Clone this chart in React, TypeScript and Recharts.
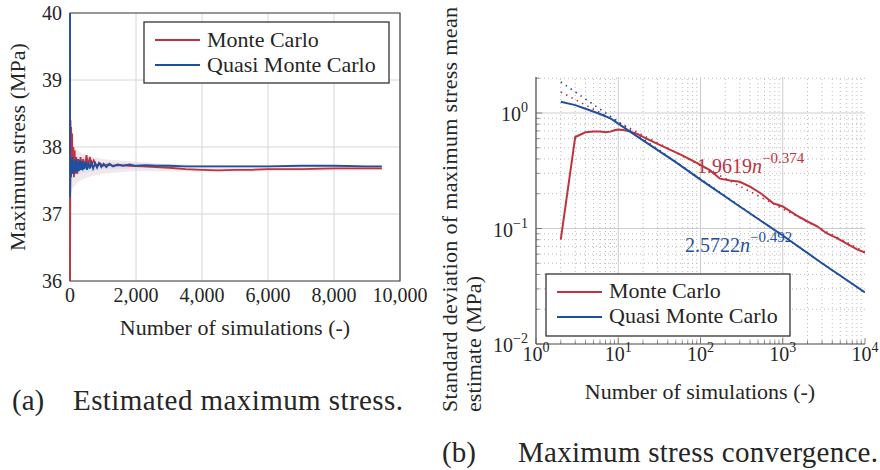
import React from 'react';
import {
  ComposedChart,
  Line,
  Area,
  XAxis,
  YAxis,
  CartesianGrid,
  ReferenceLine,
  ReferenceArea,
} from 'recharts';

const RED = '#c0323f';
const BLUE = '#1f4f9e';
const INK = '#262626';
const FRAME = '#454545';
const FONT = 'Liberation Serif';
const serif = { fontFamily: FONT };

// (a) running estimate of the maximum stress (MPa) vs number of simulations
const mcRunN = [1, 8, 15, 25, 35, 50, 65, 80, 100, 120, 140, 165, 190, 220, 250, 280, 320, 360, 400, 450, 500, 550, 600, 650, 720, 800, 900, 1000, 1150, 1300, 1500, 1800, 2200, 2600, 3000, 3500, 4000, 4500, 5000, 5500, 6000, 7000, 8000, 9000, 9450];
const mcRunMean = [36.0, 37.4, 38.4, 37.9, 38.3, 37.7, 38.2, 37.6, 38.0, 37.55, 37.95, 37.6, 37.85, 37.6, 37.82, 37.65, 37.85, 37.7, 37.82, 37.7, 37.88, 37.72, 37.85, 37.73, 37.8, 37.72, 37.76, 37.72, 37.74, 37.72, 37.73, 37.72, 37.71, 37.7, 37.69, 37.67, 37.66, 37.65, 37.66, 37.66, 37.67, 37.67, 37.68, 37.68, 37.68];

const qmcRunN = [1, 3, 10, 20, 30, 45, 60, 75, 90, 110, 130, 150, 170, 190, 215, 240, 265, 290, 320, 350, 380, 410, 440, 480, 520, 560, 600, 650, 700, 760, 820, 880, 950, 1020, 1100, 1200, 1300, 1450, 1600, 1800, 2000, 2300, 2600, 3000, 3500, 4000, 5000, 6000, 7000, 8000, 9000, 9450];
const qmcRunMean = [40.0, 37.25, 37.6, 37.82, 37.55, 37.8, 37.6, 37.85, 37.62, 37.78, 37.6, 37.8, 37.64, 37.82, 37.62, 37.78, 37.64, 37.8, 37.66, 37.79, 37.65, 37.78, 37.67, 37.78, 37.66, 37.77, 37.68, 37.77, 37.68, 37.76, 37.69, 37.76, 37.7, 37.75, 37.7, 37.75, 37.71, 37.74, 37.72, 37.74, 37.72, 37.73, 37.72, 37.72, 37.71, 37.71, 37.71, 37.71, 37.72, 37.72, 37.71, 37.71];

// faint confidence bands behind the running means
const bandN = [5, 100, 300, 600, 1000, 2000, 4000, 9450];
const mcBandLow = [37.3, 37.4, 37.5, 37.56, 37.6, 37.64, 37.63, 37.65];
const mcBandHigh = [38.2, 38.0, 37.92, 37.86, 37.82, 37.78, 37.7, 37.71];
const qmcBandLow = [37.45, 37.55, 37.6, 37.63, 37.66, 37.68, 37.69, 37.7];
const qmcBandHigh = [37.95, 37.88, 37.82, 37.8, 37.77, 37.76, 37.73, 37.72];

const stressTicks = [36, 37, 38, 39, 40];
const simTicks = [0, 2000, 4000, 6000, 8000, 10000];

// (b) standard deviation of the mean estimate (MPa)
const mcSdN = [2, 3, 4, 5, 6, 7, 8, 9, 10, 12, 14, 17, 22, 30, 43, 60, 90, 130, 172, 230, 300, 400, 550, 760, 1000, 1470, 2000, 2600, 3400, 4500, 6000, 8000, 10000];
const mcSd = [0.08, 0.62, 0.68, 0.69, 0.69, 0.68, 0.69, 0.71, 0.72, 0.71, 0.69, 0.66, 0.6, 0.54, 0.48, 0.43, 0.37, 0.32, 0.27, 0.26, 0.254, 0.23, 0.2, 0.166, 0.155, 0.13, 0.115, 0.105, 0.091, 0.083, 0.074, 0.066, 0.062];
const qmcSdN = [2, 3, 4, 6, 8, 10, 20, 50, 100, 300, 1000, 3000, 10000];
const qmcSd = [1.25, 1.17, 1.09, 0.98, 0.9, 0.81, 0.58, 0.376, 0.265, 0.155, 0.087, 0.05, 0.028];

// power-law fits, end points
const fitN = [2, 10000];
const mcFit = [1.52, 0.0626];
const qmcFit = [1.86, 0.0277];

const decadesX = [1, 10, 100, 1000, 10000];
const decadesY = [0.01, 0.1, 1];

const toPoints = (xs: number[], ys: number[]) => xs.map((n, i) => ({ n, v: ys[i] }));
const toBand = (xs: number[], lo: number[], hi: number[]) =>
  xs.map((n, i) => ({ n, range: [lo[i], hi[i]] }));

const mcRun = toPoints(mcRunN, mcRunMean);
const qmcRun = toPoints(qmcRunN, qmcRunMean);
const mcBand = toBand(bandN, mcBandLow, mcBandHigh);
const qmcBand = toBand(bandN, qmcBandLow, qmcBandHigh);

const mcConv = toPoints(mcSdN, mcSd);
const qmcConv = toPoints(qmcSdN, qmcSd);
const mcFitLine = toPoints(fitN, mcFit);
const qmcFitLine = toPoints(fitN, qmcFit);

// minor log grid: 2..9 inside every decade
const minorsOf = (decades: number[], max: number) =>
  decades.flatMap((d) => [2, 3, 4, 5, 6, 7, 8, 9].map((k) => +(k * d).toPrecision(3))).filter((v) => v <= max);
const minorX = minorsOf(decadesX.slice(0, -1), 10000);
const minorY = minorsOf(decadesY, 2.05);
const allTicksX = [...decadesX, ...minorX].sort((a, b) => a - b);
const allTicksY = [...decadesY, ...minorY].sort((a, b) => a - b);

const TICK_GAP = 10;
const isDecade = (v: number) => Math.abs(Math.log10(v) - Math.round(Math.log10(v))) < 1e-6;
const expText = (v: number) => {
  const e = Math.round(Math.log10(v));
  return e < 0 ? `\u2212${-e}` : `${e}`;
};

const PlainTickX = ({ x, y, payload }: any) => (
  <text x={x} y={y + 15} textAnchor="middle" fontSize={20} fill={INK} style={serif}>
    {payload.value.toLocaleString('en-US')}
  </text>
);

const PlainTickY = ({ x, y, payload }: any) => (
  <text x={x} y={y + 7} textAnchor="end" fontSize={20} fill={INK} style={serif}>
    {payload.value}
  </text>
);

const BottomLogTick = ({ x, y, payload }: any) => {
  const v = payload.value;
  const major = isDecade(v);
  const axisY = y - TICK_GAP;
  return (
    <g>
      <line x1={x} x2={x} y1={axisY} y2={axisY - (major ? 6 : 3.5)} stroke="#666" strokeWidth={0.8} />
      {major && (
        <text x={x} y={axisY + 17} textAnchor="middle" fontSize={20} fill={INK} style={serif}>
          10<tspan dy={-9} fontSize={14}>{expText(v)}</tspan>
        </text>
      )}
    </g>
  );
};

const TopLogTick = ({ x, y, payload }: any) => {
  const major = isDecade(payload.value);
  return <line x1={x} x2={x} y1={y} y2={y + (major ? 6 : 3.5)} stroke="#666" strokeWidth={0.8} />;
};

const LeftLogTick = ({ x, y, payload }: any) => {
  const v = payload.value;
  const major = isDecade(v);
  const axisX = x + TICK_GAP;
  return (
    <g>
      <line x1={axisX} x2={axisX + (major ? 6 : 3.5)} y1={y} y2={y} stroke="#666" strokeWidth={0.8} />
      {major && (
        <text x={axisX - 8} y={y + 8} textAnchor="end" fontSize={20} fill={INK} style={serif}>
          10<tspan dy={-9} fontSize={14}>{expText(v)}</tspan>
        </text>
      )}
    </g>
  );
};

const RightLogTick = ({ x, y, payload }: any) => {
  const major = isDecade(payload.value);
  return <line x1={x} x2={x - (major ? 6 : 3.5)} y1={y} y2={y} stroke="#666" strokeWidth={0.8} />;
};

function StressChart() {
  return (
    <ComposedChart width={440} height={340} margin={{ top: 13, right: 40, bottom: 29, left: 20 }}>
      <CartesianGrid stroke="#d6d6d6" strokeWidth={1} />
      <XAxis
        dataKey="n"
        type="number"
        domain={[0, 10000]}
        ticks={simTicks}
        interval={0}
        height={30}
        tickSize={0}
        tickMargin={6}
        tickLine={false}
        axisLine={false}
        tick={<PlainTickX />}
      />
      <YAxis
        type="number"
        domain={[36, 40]}
        ticks={stressTicks}
        interval={0}
        width={50}
        tickSize={0}
        tickMargin={8}
        tickLine={false}
        axisLine={false}
        tick={<PlainTickY />}
        allowDataOverflow
      />
      <Area data={mcBand} dataKey="range" stroke="none" fill="#e3cfd6" fillOpacity={0.45} isAnimationActive={false} />
      <Area data={qmcBand} dataKey="range" stroke="none" fill="#cdd7e6" fillOpacity={0.45} isAnimationActive={false} />
      <Line data={mcRun} dataKey="v" type="linear" stroke={RED} strokeWidth={1.8} dot={false} isAnimationActive={false} />
      <Line data={qmcRun} dataKey="v" type="linear" stroke={BLUE} strokeWidth={1.8} dot={false} isAnimationActive={false} />
      <ReferenceArea x1={0} x2={10000} y1={36} y2={40} fill="none" stroke={FRAME} strokeWidth={1.2} />
    </ComposedChart>
  );
}

function ConvergenceChart() {
  return (
    <ComposedChart width={450} height={380} margin={{ top: 77, right: 15, bottom: 6, left: 46 }}>
      <XAxis
        dataKey="n"
        type="number"
        scale="log"
        domain={[1, 10000]}
        ticks={allTicksX}
        interval={0}
        height={30}
        tickSize={0}
        tickMargin={TICK_GAP}
        tickLine={false}
        axisLine={{ stroke: FRAME, strokeWidth: 1.2 }}
        tick={<BottomLogTick />}
        allowDataOverflow
      />
      <XAxis
        xAxisId="top"
        orientation="top"
        dataKey="n"
        type="number"
        scale="log"
        domain={[1, 10000]}
        ticks={allTicksX}
        interval={0}
        height={0}
        tickSize={0}
        tickMargin={0}
        tickLine={false}
        axisLine={{ stroke: FRAME, strokeWidth: 1.2 }}
        tick={<TopLogTick />}
        allowDataOverflow
      />
      <YAxis
        type="number"
        scale="log"
        domain={[0.01, 2.05]}
        ticks={allTicksY}
        interval={0}
        width={60}
        tickSize={0}
        tickMargin={TICK_GAP}
        tickLine={false}
        axisLine={{ stroke: FRAME, strokeWidth: 1.2 }}
        tick={<LeftLogTick />}
        allowDataOverflow
      />
      <YAxis
        yAxisId="right"
        orientation="right"
        type="number"
        scale="log"
        domain={[0.01, 2.05]}
        ticks={allTicksY}
        interval={0}
        width={0}
        tickSize={0}
        tickMargin={0}
        tickLine={false}
        axisLine={{ stroke: FRAME, strokeWidth: 1.2 }}
        tick={<RightLogTick />}
        allowDataOverflow
      />
      {minorX.map((v) => (
        <ReferenceLine key={`mx${v}`} x={v} stroke="#bdbdbd" strokeDasharray="1 3" />
      ))}
      {minorY.map((v) => (
        <ReferenceLine key={`my${v}`} y={v} stroke="#bdbdbd" strokeDasharray="1 3" />
      ))}
      {decadesX.slice(1, -1).map((v) => (
        <ReferenceLine key={`Mx${v}`} x={v} stroke="#cdcdcd" />
      ))}
      {decadesY.slice(1).map((v) => (
        <ReferenceLine key={`My${v}`} y={v} stroke="#cdcdcd" />
      ))}
      <Line data={mcFitLine} dataKey="v" type="linear" stroke={RED} strokeWidth={1.6} strokeDasharray="1.5 4.5" dot={false} isAnimationActive={false} />
      <Line data={qmcFitLine} dataKey="v" type="linear" stroke={BLUE} strokeWidth={1.6} strokeDasharray="1.5 4.5" dot={false} isAnimationActive={false} />
      <Line data={mcConv} dataKey="v" type="linear" stroke={RED} strokeWidth={2} dot={false} isAnimationActive={false} />
      <Line data={qmcConv} dataKey="v" type="linear" stroke={BLUE} strokeWidth={2} dot={false} isAnimationActive={false} />
    </ComposedChart>
  );
}

function LegendBox({ x, y, w, h, rows }: { x: number; y: number; w: number; h: number; rows: [number, number][] }) {
  const items = [
    { label: 'Monte Carlo', color: RED },
    { label: 'Quasi Monte Carlo', color: BLUE },
  ];
  return (
    <g>
      <rect x={x} y={y} width={w} height={h} fill="#fff" stroke="#333" strokeWidth={1.3} />
      {items.map((it, i) => (
        <g key={it.label}>
          <line x1={x + 11} x2={x + 56} y1={rows[i][0]} y2={rows[i][0]} stroke={it.color} strokeWidth={2.2} />
          <text x={x + 63} y={rows[i][1]} fontSize={22} fill={INK} style={serif}>
            {it.label}
          </text>
        </g>
      ))}
    </g>
  );
}

export default function App() {
  return (
    <div style={{ position: 'absolute', left: 0, top: 0, width: 880, height: 470, background: '#fff', overflow: 'hidden', fontFamily: FONT }}>
      <div style={{ position: 'absolute', left: 0, top: 0 }}>
        <StressChart />
      </div>
      <div style={{ position: 'absolute', left: 430, top: 0 }}>
        <ConvergenceChart />
      </div>
      <svg width={880} height={470} style={{ position: 'absolute', left: 0, top: 0, pointerEvents: 'none' }}>
        {/* (a) labels */}
        <text x={25} y={147} transform="rotate(-90 25 147)" textAnchor="middle" fontSize={22} fill={INK} style={serif}>
          Maximum stress (MPa)
        </text>
        <text x={235} y={335} textAnchor="middle" fontSize={22} fill={INK} style={serif}>
          Number of simulations (-)
        </text>
        <LegendBox x={144} y={22} w={245} h={61} rows={[[40, 47], [65, 72]]} />
        <text x={12} y={410} fontSize={29} fill={INK} style={serif}>(a)</text>
        <text x={73} y={410} fontSize={29} fill={INK} style={serif} textLength={330} lengthAdjust="spacing">
          Estimated maximum stress.
        </text>

        {/* (b) labels */}
        <text x={457} y={412} transform="rotate(-90 457 412)" fontSize={22} fill={INK} style={serif} textLength={405} lengthAdjust="spacing">
          Standard deviation of maximum stress mean
        </text>
        <text x={481} y={412} transform="rotate(-90 481 412)" fontSize={22} fill={INK} style={serif} textLength={136} lengthAdjust="spacing">
          estimate (MPa)
        </text>
        <text x={700} y={399} textAnchor="middle" fontSize={22} fill={INK} style={serif}>
          Number of simulations (-)
        </text>
        <text x={697} y={173} fontSize={20} fill={RED} style={serif}>
          1.9619<tspan fontStyle="italic">n</tspan>
          <tspan dy={-10} fontSize={15}>{'\u22120.374'}</tspan>
        </text>
        <text x={685} y={252} fontSize={20} fill={BLUE} style={serif}>
          2.5722<tspan fontStyle="italic">n</tspan>
          <tspan dy={-10} fontSize={15}>{'\u22120.492'}</tspan>
        </text>
        <LegendBox x={546} y={274} w={244} h={62} rows={[[292, 298], [317, 323]]} />
        <text x={442} y={462} fontSize={29} fill={INK} style={serif}>(b)</text>
        <text x={518} y={462} fontSize={29} fill={INK} style={serif} textLength={360} lengthAdjust="spacing">
          Maximum stress convergence.
        </text>
      </svg>
    </div>
  );
}
